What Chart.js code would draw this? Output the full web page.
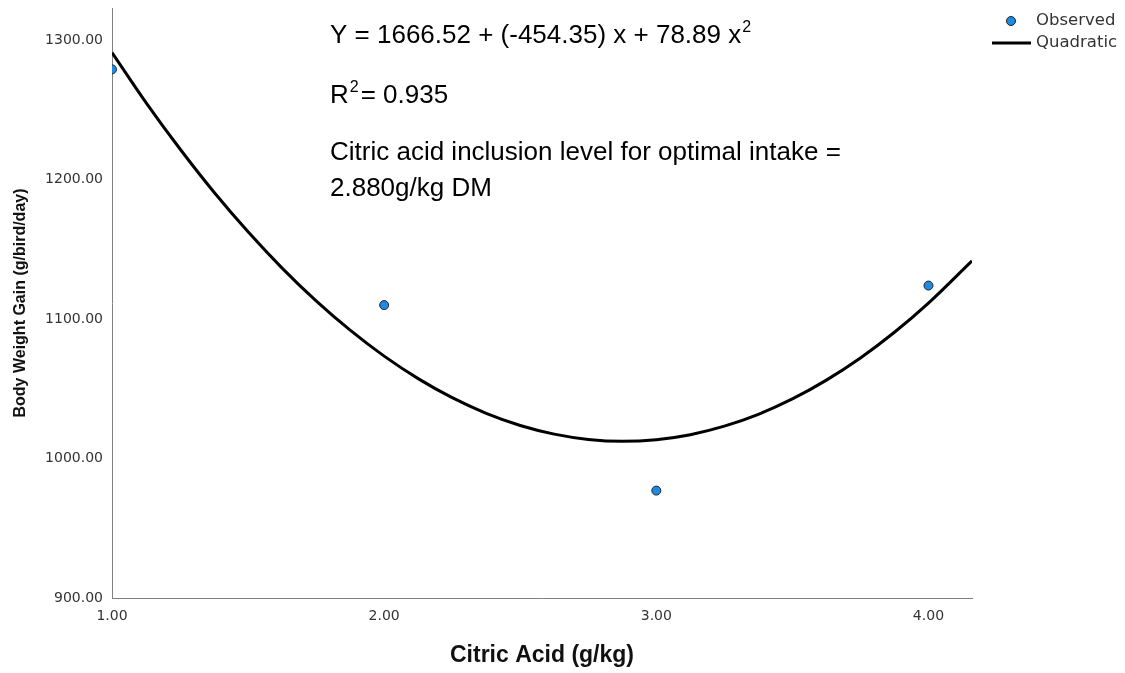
<!DOCTYPE html>
<html>
<head>
<meta charset="utf-8">
<script src="https://cdn.jsdelivr.net/npm/chart.js@4.4.1/dist/chart.umd.min.js"></script>
<style>
  html, body { margin: 0; padding: 0; background: #fff; }
  #wrap { width: 1125px; height: 673px; }
</style>
</head>
<body>
<div id="wrap"><canvas id="chart" width="1125" height="673"></canvas></div>
<script>
  // observed values
  const citricAcid = [1, 2, 3, 4];
  const bodyWeightGain = [1279, 1110, 977, 1124];

  // quadratic fit line
  const fitX = [1.0, 1.125, 1.25, 1.375, 1.5, 1.625, 1.75, 1.875, 2.0, 2.125, 2.25, 2.375, 2.5,
                2.625, 2.75, 2.875, 3.0, 3.125, 3.25, 3.375, 3.5, 3.625, 3.75, 3.875, 4.0, 4.16];
  const fitY = [1291.1, 1255.2, 1221.9, 1190.9, 1162.5, 1136.5, 1113.0, 1092.0, 1073.4, 1057.3,
                1043.6, 1032.4, 1023.7, 1017.5, 1013.7, 1012.3, 1013.5, 1017.1, 1023.2, 1031.7,
                1042.7, 1056.2, 1072.1, 1090.5, 1111.4, 1141.7];

  // axis ticks
  const xTicks = [1, 2, 3, 4];
  const yTicks = [900, 1000, 1100, 1200, 1300];

  // text in the plot
  const equationText = ['Y = 1666.52 + (-454.35) x + 78.89 x', '2'];
  const r2Text = ['R', '2', '= 0.935'];
  const optimumText = ['Citric acid inclusion level for optimal intake =', '2.880g/kg DM'];
  const legendLabels = ['Observed', 'Quadratic'];

  const pointColor = '#1e8ae2';
  const axisColor = '#808080';
  const tickFont = { family: '"DejaVu Sans", sans-serif', size: 14 };

  //注記と凡例を描くプラグイン
  const notesPlugin = {
    id: 'notes',
    afterDraw(chart) {
      const ctx = chart.ctx;
      ctx.save();
      ctx.fillStyle = '#000';
      ctx.textBaseline = 'alphabetic';
      const big = '26px "Liberation Sans", Arial, sans-serif';
      const sup = '16px "Liberation Sans", Arial, sans-serif';

      // equation
      let x = 330;
      ctx.font = big;
      ctx.fillText(equationText[0], x, 43);
      x += ctx.measureText(equationText[0]).width + 1;
      ctx.font = sup;
      ctx.fillText(equationText[1], x, 32);

      // R squared
      x = 330;
      ctx.font = big;
      ctx.fillText(r2Text[0], x, 103);
      x += ctx.measureText(r2Text[0]).width + 1;
      ctx.font = sup;
      ctx.fillText(r2Text[1], x, 92);
      x += ctx.measureText(r2Text[1]).width + 2;
      ctx.font = big;
      ctx.fillText(r2Text[2], x, 103);

      // optimum
      ctx.fillText(optimumText[0], 330, 160);
      ctx.fillText(optimumText[1], 330, 196);

      // legend
      ctx.font = '16.5px "DejaVu Sans", sans-serif';
      ctx.fillStyle = '#333';
      ctx.textBaseline = 'middle';
      ctx.fillText(legendLabels[0], 1036, 21);
      ctx.fillText(legendLabels[1], 1036, 43);
      ctx.beginPath();
      ctx.arc(1011, 21, 4.5, 0, Math.PI * 2);
      ctx.fillStyle = pointColor;
      ctx.fill();
      ctx.lineWidth = 1;
      ctx.strokeStyle = '#222';
      ctx.stroke();
      ctx.beginPath();
      ctx.moveTo(992, 43);
      ctx.lineTo(1031, 43);
      ctx.lineWidth = 3;
      ctx.strokeStyle = '#000';
      ctx.stroke();
      ctx.restore();
    }
  };

  const ctx = document.getElementById('chart');
  new Chart(ctx, {
    type: 'scatter',
    data: {
      datasets: [
        {
          label: legendLabels[0],
          data: citricAcid.map((v, i) => ({ x: v, y: bodyWeightGain[i] })),
          backgroundColor: pointColor,
          borderColor: '#222',
          borderWidth: 1,
          pointRadius: 4.5,
          order: 1
        },
        {
          label: legendLabels[1],
          data: fitX.map((v, i) => ({ x: v, y: fitY[i] })),
          showLine: true,
          borderColor: '#000',
          borderWidth: 3,
          pointRadius: 0,
          cubicInterpolationMode: 'monotone',
          fill: false,
          order: 2
        }
      ]
    },
    options: {
      responsive: false,
      animation: false,
      layout: { padding: { top: 8, right: 153, left: 0, bottom: 0 } },
      plugins: {
        legend: { display: false },
        tooltip: { enabled: false }
      },
      scales: {
        x: {
          type: 'linear',
          min: 1,
          max: 4.16,
          afterBuildTicks: (s) => { s.ticks = xTicks.map(v => ({ value: v })); },
          afterFit: (s) => { s.height = 75; s.paddingLeft = 0; s.paddingRight = 0; },
          grid: { display: false, drawTicks: false },
          border: { display: true, color: axisColor, width: 1 },
          ticks: {
            color: '#333',
            font: tickFont,
            padding: 10,
            maxRotation: 0,
            callback: (v) => Number(v).toFixed(2)
          },
          title: {
            display: true,
            text: 'Citric Acid (g/kg)',
            color: '#111',
            font: { family: '"Liberation Sans", Arial, sans-serif', size: 23, weight: 'bold' },
            padding: { top: 0, bottom: 4 }
          }
        },
        y: {
          min: 900,
          max: 1323,
          afterBuildTicks: (s) => { s.ticks = yTicks.map(v => ({ value: v })); },
          afterFit: (s) => { s.width = 112; s.paddingTop = 0; s.paddingBottom = 0; },
          grid: { display: false, drawTicks: false },
          border: { display: true, color: axisColor, width: 1 },
          ticks: {
            color: '#333',
            font: tickFont,
            padding: 9,
            callback: (v) => Number(v).toFixed(2)
          },
          title: {
            display: true,
            text: 'Body Weight Gain (g/bird/day)',
            color: '#111',
            font: { family: '"Liberation Sans", Arial, sans-serif', size: 16, weight: 'bold' },
            padding: { top: 11, bottom: 0 }
          }
        }
      }
    },
    plugins: [notesPlugin]
  });
</script>
</body>
</html>
